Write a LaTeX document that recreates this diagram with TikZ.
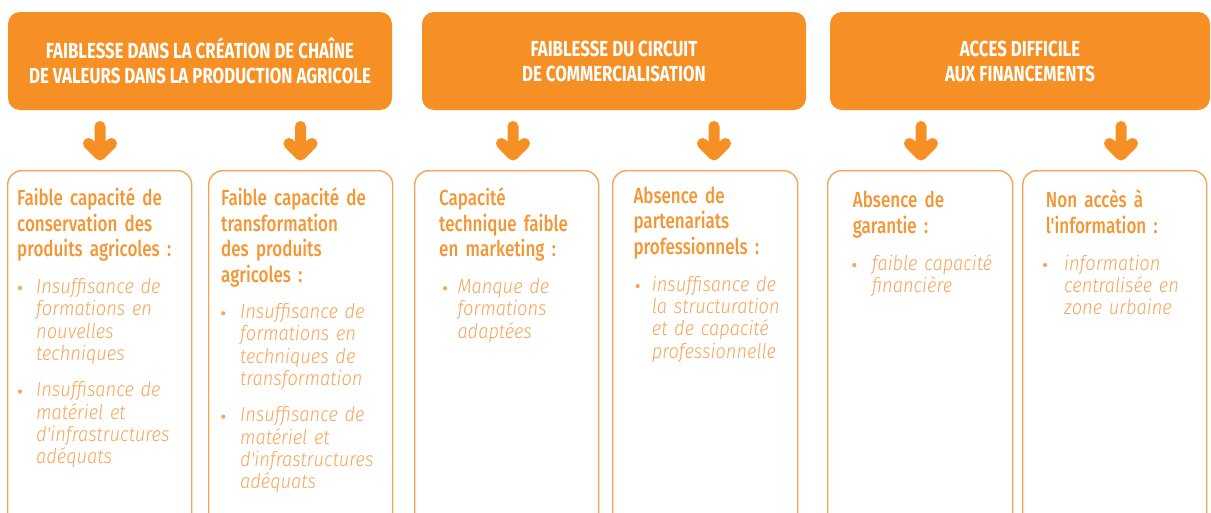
\documentclass[tikz,border=0pt]{standalone}
\usepackage{fontspec}
\usetikzlibrary{calc}
\setmainfont{Fira Sans}
\newfontfamily\hdfont{Fira Sans}[FakeStretch=0.772]
\newfontfamily\ttlfont{Fira Sans Medium}[FakeStretch=0.78]
\newfontfamily\bulfont{Fira Sans Light Italic}[FakeStretch=0.9]
\definecolor{hdorange}{RGB}{247,144,36}
\definecolor{ttlorange}{RGB}{244,150,52}
\definecolor{bulorange}{RGB}{246,165,90}
\definecolor{boxorange}{RGB}{247,163,84}
\begin{document}
\begin{tikzpicture}[x=1pt,y=-1pt,
  hdr/.style={fill=hdorange, rounded corners=12pt, text=white, align=center,
    inner sep=0pt, minimum height=98pt,
    font=\hdfont\bfseries\fontsize{21.8}{25}\selectfont},
  colbox/.style={draw=boxorange, line width=1.4pt, rounded corners=14pt,
    anchor=north west, minimum height=360pt, inner sep=0pt},
  ttl/.style={anchor=base west, inner sep=0pt, text width=185pt, align=left,
    text=ttlorange, font=\ttlfont\fontsize{21.8}{25.5}\selectfont},
  itm/.style={anchor=base west, inner sep=0pt, text width=180pt, align=left,
    text=bulorange, font=\bulfont\fontsize{20.3}{22.4}\selectfont},
  bulletdot/.style={fill=bulorange},
  bigarrow/.style={draw=hdorange, line width=11pt, line cap=round, line join=round}
]
\useasboundingbox (0,0) rectangle (1211,512);
\clip (0,0) rectangle (1211,512);

% headers
\node[hdr, minimum width=384pt] (h1) at (200,61)
  {FAIBLESSE DANS LA CRÉATION DE CHAÎNE\\DE VALEURS DANS LA PRODUCTION AGRICOLE};
\node[hdr, minimum width=384pt] (h2) at (614,61)
  {FAIBLESSE DU CIRCUIT\\DE COMMERCIALISATION};
\node[hdr, minimum width=380pt] (h3) at (1020,61)
  {ACCES DIFFICILE\\AUX FINANCEMENTS};

% boxes
\node[colbox, minimum width=184pt] (b1) at (7,170) {};
\node[colbox, minimum width=184pt] (b2) at (208,170) {};
\node[colbox, minimum width=184pt] (b3) at (414,170) {};
\node[colbox, minimum width=185pt] (b4) at (612,170) {};
\node[colbox, minimum width=185pt] (b5) at (827,170) {};
\node[colbox, minimum width=184pt] (b6) at (1022,170) {};

% arrows
\foreach \n/\x in {1/100,2/300.5,3/513,4/714,5/921,6/1121}{
  \coordinate (a\n) at (\x,126.5);
  \coordinate (a\n t) at (\x,155);
  \draw[bigarrow] (a\n) -- (a\n t)
    ($(a\n t)+(-11.5,-11.5)$) -- (a\n t) -- ($(a\n t)+(11.5,-11.5)$);
}

% box 1
\node[ttl] (t1) at (17,205.7) {Faible capacité de\\conservation des\\produits agricoles :};
\node[itm] (i1a) at (36,293.3) {Insuffisance de\\formations en\\nouvelles\\techniques};
\node[itm] (i1b) at (36,396.7) {Insuffisance de\\matériel et\\d'infrastructures\\adéquats};
\fill[bulletdot] (20,288) circle (2.1pt);
\fill[bulletdot] (20,391.5) circle (2.1pt);

% box 2
\node[ttl] (t2) at (221,205.7) {Faible capacité de\\transformation\\des produits\\agricoles :};
\node[itm] (i2a) at (240,318.3) {Insuffisance de\\formations en\\techniques de\\transformation};
\node[itm] (i2b) at (240,421.7) {Insuffisance de\\matériel et\\d'infrastructures\\adéquats};
\fill[bulletdot] (223.3,313.3) circle (2.1pt);
\fill[bulletdot] (223.3,416.7) circle (2.1pt);

% box 3
\node[ttl] (t3) at (439,205.7) {Capacité\\technique faible\\en marketing :};
\node[itm] (i3) at (457.3,293.3) {Manque de\\formations\\adaptées};
\fill[bulletdot] (445,288.3) circle (2.1pt);

% box 4
\node[ttl] (t4) at (633.3,203.3) {Absence de\\partenariats\\professionnels :};
\node[itm] (i4) at (651.7,291) {insuffisance de\\la structuration\\et de capacité\\professionnelle};
\fill[bulletdot] (637.7,286) circle (2.1pt);

% box 5
\node[ttl] (t5) at (852.7,207.7) {Absence de\\garantie :};
\node[itm] (i5) at (871.7,270) {faible capacité\\financière};
\fill[bulletdot] (854.3,265) circle (2.1pt);

% box 6
\node[ttl] (t6) at (1045.7,207.7) {Non accès à\\l'information :};
\node[itm] (i6) at (1064,270) {information\\centralisée en\\zone urbaine};
\fill[bulletdot] (1045,265) circle (2.1pt);
\end{tikzpicture}
\end{document}
